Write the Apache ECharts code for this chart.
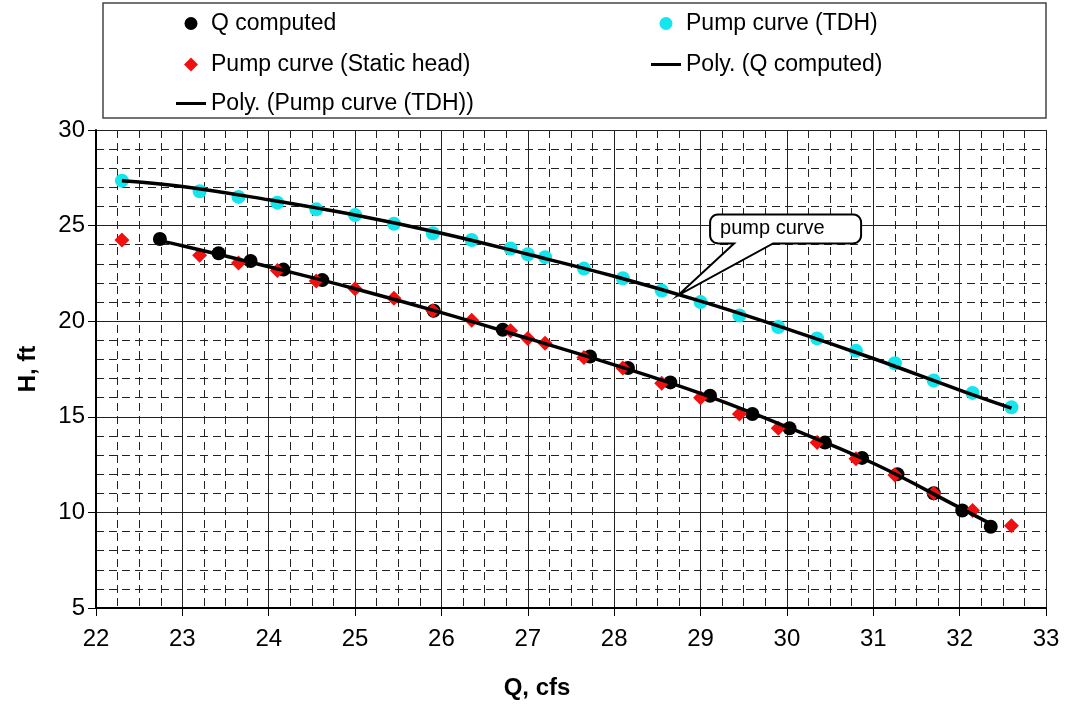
<!DOCTYPE html>
<html>
<head>
<meta charset="utf-8">
<script src="https://cdn.jsdelivr.net/npm/echarts@6/dist/echarts.min.js"></script>
<style>
  html, body { margin: 0; padding: 0; background: #fff; }
  #chart { width: 1066px; height: 705px; }
</style>
</head>
<body>
<div id="chart"></div>
<script>
// ---- data ----
const xTicks = [22, 23, 24, 25, 26, 27, 28, 29, 30, 31, 32, 33];
const yTicks = [5, 10, 15, 20, 25, 30];

const qPump = [22.3, 23.2, 23.65, 24.1, 24.55, 25.0, 25.45, 25.9, 26.35, 26.8, 27.0, 27.2,
               27.65, 28.1, 28.55, 29.0, 29.45, 29.9, 30.35, 30.8, 31.25, 31.7, 32.15, 32.6];
const hTDH = [27.35, 26.8, 26.5, 26.2, 25.85, 25.55, 25.1, 24.6, 24.25, 23.8, 23.5, 23.35,
              22.75, 22.25, 21.6, 21.0, 20.3, 19.7, 19.1, 18.45, 17.8, 16.9, 16.25, 15.5];
const hStatic = [24.25, 23.45, 23.05, 22.65, 22.1, 21.7, 21.2, 20.55, 20.05, 19.5, 19.1, 18.85,
                 18.1, 17.55, 16.75, 16.0, 15.15, 14.4, 13.65, 12.8, 11.95, 11.0, 10.1, 9.3];

const qComputed = [22.74, 23.42, 23.79, 24.17, 24.62, 25.91, 26.71, 27.72, 28.16, 28.65,
                   29.11, 29.6, 30.03, 30.44, 30.87, 31.28, 31.7, 32.03, 32.36];
const hComputed = [24.3, 23.55, 23.15, 22.7, 22.15, 20.55, 19.55, 18.15, 17.55, 16.8,
                   16.1, 15.15, 14.4, 13.65, 12.85, 12.0, 11.0, 10.1, 9.25];

// trendlines
const polyTDHx = [22.3, 23, 24, 25, 26, 27, 28, 29, 30, 31, 32, 32.6];
const polyTDHy = [27.35, 27.05, 26.35, 25.55, 24.6, 23.5, 22.35, 21.05, 19.6, 18.05, 16.4, 15.45];
const polyQx = [22.74, 23, 24, 25, 26, 27, 28, 29, 30, 31, 32, 32.36];
const polyQy = [24.2, 23.95, 22.85, 21.7, 20.45, 19.1, 17.72, 16.22, 14.47, 12.57, 10.25, 9.4];

const calloutText = 'pump curve';
const calloutAnchor = [28.74, 21.35];

const names = ['Q computed', 'Pump curve (TDH)', 'Pump curve (Static head)',
               'Poly. (Q computed)', 'Poly. (Pump curve (TDH))'];

const zip = (a, b) => a.map((v, i) => [v, b[i]]);

const FONT = 'Liberation Sans, Arial, sans-serif';
const chart = echarts.init(document.getElementById('chart'), null, { renderer: 'canvas' });

// icons padded to a 30x14 box so the marker sits centred and is not stretched
const ICON_CIRCLE = 'path://M0,7L0,7M30,7L30,7M21.5,7A6.5,6.5,0,1,1,8.5,7A6.5,6.5,0,1,1,21.5,7Z';
const ICON_DIAMOND = 'path://M0,7L0,7M30,7L30,7M15,0L22,7L15,14L8,7Z';
const ICON_LINE = 'path://M0,5.5L30,5.5L30,8.5L0,8.5Z';

function legendItem(name, icon, left, top) {
  return {
    data: [{ name: name, icon: icon }],
    left: left, top: top, orient: 'horizontal',
    itemWidth: 30, itemHeight: 14, padding: 0,
    selectedMode: false,
    textStyle: { fontFamily: FONT, fontSize: 23, color: '#000' }
  };
}

const option = {
  animation: false,
  backgroundColor: '#fff',
  grid: { left: 96, right: 20, top: 130, bottom: 96, containLabel: false },
  legend: [
    legendItem(names[0], ICON_CIRCLE, 176, 12),
    legendItem(names[1], ICON_CIRCLE, 651, 12),
    legendItem(names[2], ICON_DIAMOND, 176, 53),
    legendItem(names[3], ICON_LINE, 651, 53),
    legendItem(names[4], ICON_LINE, 176, 92)
  ],
  xAxis: {
    type: 'value', min: xTicks[0], max: xTicks[xTicks.length - 1], interval: 1,
    name: 'Q, cfs', nameLocation: 'middle', nameGap: 68,
    nameTextStyle: { fontFamily: FONT, fontSize: 24, fontWeight: 'bold', color: '#000',
                     padding: [0, 68, 0, 0] },
    axisLine: { show: true, onZero: false, lineStyle: { color: '#000', width: 2 } },
    axisTick: { show: true, length: 8, lineStyle: { color: '#000', width: 1 } },
    axisLabel: { fontFamily: FONT, fontSize: 24, color: '#000', margin: 19 },
    splitLine: { show: true, lineStyle: { color: '#222', width: 1 } },
    minorTick: { show: false, splitNumber: 4 },
    minorSplitLine: { show: true, lineStyle: { color: '#222', width: 1, type: [8, 5] } }
  },
  yAxis: {
    type: 'value', min: yTicks[0], max: yTicks[yTicks.length - 1], interval: 5,
    name: 'H, ft', nameLocation: 'middle', nameGap: 56, nameRotate: 90,
    nameTextStyle: { fontFamily: FONT, fontSize: 24, fontWeight: 'bold', color: '#000' },
    axisLine: { show: true, onZero: false, lineStyle: { color: '#000', width: 2 } },
    axisTick: { show: true, length: 8, lineStyle: { color: '#000', width: 1 } },
    axisLabel: { fontFamily: FONT, fontSize: 24, color: '#000', margin: 11 },
    splitLine: { show: true, lineStyle: { color: '#222', width: 1 } },
    minorTick: { show: false, splitNumber: 5 },
    minorSplitLine: { show: true, lineStyle: { color: '#222', width: 1, type: [8, 5] } }
  },
  series: [
    { name: names[0], type: 'scatter', symbol: 'circle', symbolSize: 14,
      itemStyle: { color: '#000', opacity: 1 }, data: zip(qComputed, hComputed), z: 3 },
    { name: names[1], type: 'scatter', symbol: 'circle', symbolSize: 14,
      itemStyle: { color: '#14e6ee', opacity: 1 }, data: zip(qPump, hTDH), z: 3 },
    { name: names[2], type: 'scatter', symbol: 'diamond', symbolSize: 15,
      itemStyle: { color: '#f01010', opacity: 1 }, data: zip(qPump, hStatic), z: 4 },
    { name: names[3], type: 'line', smooth: 0.4, showSymbol: false, symbol: 'none',
      lineStyle: { color: '#000', width: 3.5 }, itemStyle: { color: '#000' },
      data: zip(polyQx, polyQy), z: 5 },
    { name: names[4], type: 'line', smooth: 0.4, showSymbol: false, symbol: 'none',
      lineStyle: { color: '#000', width: 3.5 }, itemStyle: { color: '#000' },
      data: zip(polyTDHx, polyTDHy), z: 5 }
  ]
};
chart.setOption(option);

// callout shape anchored to a data point
const tip = chart.convertToPixel({ gridIndex: 0 }, calloutAnchor);
const tx = tip[0], ty = tip[1];
const L = tx + 32, R = tx + 183, T = ty - 81, B = ty - 52, r = 8;
const b1 = tx + 56, b2 = tx + 95;
function arc(cx, cy, a0, a1) {
  const pts = [];
  for (let k = 0; k <= 6; k++) {
    const a = a0 + (a1 - a0) * k / 6;
    pts.push([cx + r * Math.cos(a), cy + r * Math.sin(a)]);
  }
  return pts;
}
const PI = Math.PI;
const calloutPts = [].concat(
  arc(L + r, T + r, PI, 1.5 * PI),
  arc(R - r, T + r, 1.5 * PI, 2 * PI),
  arc(R - r, B - r, 0, 0.5 * PI),
  [[b2, B], [tx, ty], [b1, B]],
  arc(L + r, B - r, 0.5 * PI, PI)
);

chart.setOption({
  graphic: [
    { type: 'rect', x: 103, y: 3, z: -1, silent: true,
      shape: { x: 0, y: 0, width: 943, height: 115 },
      style: { fill: '#fff', stroke: '#444', lineWidth: 1.5 } },
    { type: 'polygon', z: 100, silent: true,
      shape: { points: calloutPts },
      style: { fill: '#fff', stroke: '#000', lineWidth: 2 } },
    { type: 'text', z: 101, x: L + 10, y: (T + B) / 2, silent: true,
      style: { text: calloutText, font: '20px ' + FONT, fill: '#000',
               verticalAlign: 'middle', align: 'left' } }
  ]
});
</script>
</body>
</html>
